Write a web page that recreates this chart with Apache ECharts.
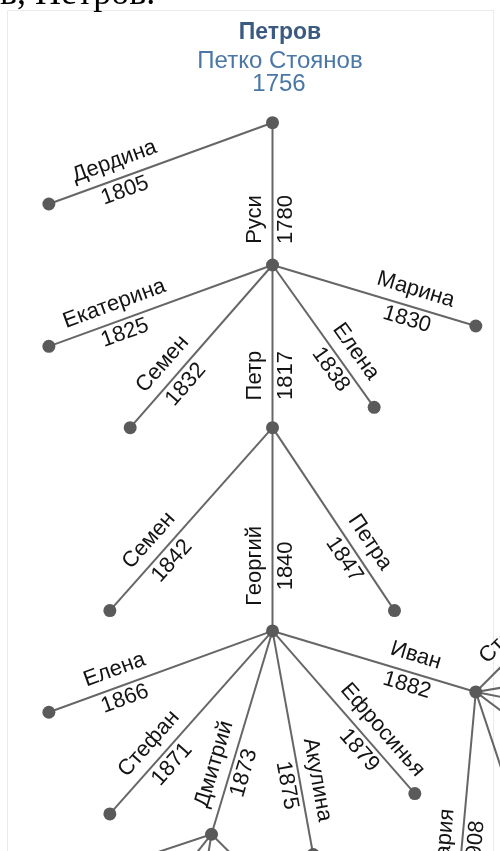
<!DOCTYPE html>
<html>
<head>
<meta charset="utf-8">
<script src="https://cdn.jsdelivr.net/npm/echarts@6/dist/echarts.min.js"></script>
<style>
  html, body { margin: 0; padding: 0; background: #ffffff; }
  #chart { width: 500px; height: 851px; }
</style>
</head>
<body>
<div id="chart"></div>
<script>
// ---- data ----
const pageCaption = 'в, Петров.';
const familyName = 'Петров';
// node 0 is the root of the family tree
const names = [
  'Петко Стоянов', 'Дердина', 'Руси',
  'Екатерина', 'Семен', 'Петр', 'Елена', 'Марина',
  'Семен', 'Георгий', 'Петра',
  'Елена', 'Стефан', 'Дмитрий', 'Акулина', 'Ефросинья', 'Иван',
  'Мария', '', '', '', '', 'Стоян',
  '', '', '', ''
];
const years = [
  '1756', '1805', '1780',
  '1825', '1832', '1817', '1838', '1830',
  '1842', '1840', '1847',
  '1866', '1871', '1873', '1875', '1879', '1882',
  '1908', '', '', '', '', '',
  '', '', '', ''
];
const parents = [
  -1, 0, 0,
  2, 2, 2, 2, 2,
  5, 5, 5,
  9, 9, 9, 9, 9, 9,
  16, 16, 16, 16, 16, 16,
  13, 13, 13, 13
];
// node positions in tree-layout units (root = 0,0; y grows downward)
const nodeX = [
  0, -11, 0,
  -11, -7, 0, 5, 10,
  -8, 0, 6,
  -11, -8, -3, 2, 7, 10,
  9, 12, 14, 15, 16, 13,
  -9, -7, -4, 0
];
const nodeY = [
  0, 4, 7,
  11, 15, 15, 14, 10,
  24, 25, 24,
  29, 34, 35, 36, 33, 28,
  39, 34, 31, 29, 27, 25,
  37, 40, 41, 38
];

// ---- build series data ----
const nodeData = nodeX.map((x, i) => [x, nodeY[i]]);
const edgeData = [];
for (let i = 0; i < parents.length; i++) {
  const p = parents[i];
  if (p < 0) continue;
  edgeData.push([nodeX[p], nodeY[p], nodeX[i], nodeY[i], i]);
}

const LABEL_T = 0.68;
const NAME_OFF = 17.5;
const YEAR_OFF = 13.5;
const LABEL_FONT = '22px "Liberation Sans", Arial, sans-serif';
const HEAD_FONT = '24px "Liberation Sans", Arial, sans-serif';

const chart = echarts.init(document.getElementById('chart'), null, { renderer: 'canvas' });
chart.setOption({
  backgroundColor: '#ffffff',
  animation: false,
  grid: { left: 0, right: 0, top: 0, bottom: 0 },
  xAxis: { type: 'value', min: -13.404, max: 11.19, show: false },
  yAxis: { type: 'value', min: -6.035, max: 35.825, inverse: true, show: false },
  graphic: [
    { type: 'rect', silent: true, z: 0,
      shape: { x: 7.5, y: 10.5, width: 486, height: 900 },
      style: { fill: 'none', stroke: '#ebebeb', lineWidth: 1 } },
    { type: 'text', silent: true, x: 0, y: -5,
      style: { text: pageCaption, font: '36px "Liberation Serif", "Times New Roman", serif',
               fill: '#000', align: 'left', verticalAlign: 'middle' } },
    { type: 'text', silent: true, x: 280, y: 21,
      style: { text: familyName, font: 'bold 23px "Liberation Sans", Arial, sans-serif',
               fill: '#3b5a80', align: 'center', verticalAlign: 'top' } },
    { type: 'text', silent: true, x: 280, y: 49,
      style: { text: names[0], font: HEAD_FONT,
               fill: '#4a77a6', align: 'center', verticalAlign: 'top' } },
    { type: 'text', silent: true, x: 279, y: 72,
      style: { text: years[0], font: HEAD_FONT,
               fill: '#4a77a6', align: 'center', verticalAlign: 'top' } }
  ],
  series: [
    {
      type: 'custom',
      coordinateSystem: 'cartesian2d',
      silent: true,
      clip: false,
      z: 2,
      encode: { x: [0, 2], y: [1, 3] },
      data: edgeData,
      renderItem: function (params, api) {
        const idx = api.value(4);
        const p = api.coord([api.value(0), api.value(1)]);
        const c = api.coord([api.value(2), api.value(3)]);
        const dx = c[0] - p[0], dy = c[1] - p[1];
        const len = Math.hypot(dx, dy);
        let ux = dx / len, uy = dy / len;
        if (dx <= 0) { ux = -ux; uy = -uy; }
        const upx = uy, upy = -ux;
        const ax = p[0] + LABEL_T * dx, ay = p[1] + LABEL_T * dy;
        const rot = -Math.atan2(uy, ux);
        return {
          type: 'group',
          children: [
            { type: 'line', shape: { x1: p[0], y1: p[1], x2: c[0], y2: c[1] },
              style: { stroke: '#666666', lineWidth: 2 } },
            { type: 'text', x: ax + upx * NAME_OFF, y: ay + upy * NAME_OFF, rotation: rot,
              style: { text: names[idx], font: LABEL_FONT, fill: '#141414',
                       align: 'center', verticalAlign: 'middle' } },
            { type: 'text', x: ax - upx * YEAR_OFF, y: ay - upy * YEAR_OFF, rotation: rot,
              style: { text: years[idx], font: LABEL_FONT, fill: '#141414',
                       align: 'center', verticalAlign: 'middle' } }
          ]
        };
      }
    },
    {
      type: 'scatter',
      silent: true,
      clip: false,
      z: 3,
      symbol: 'circle',
      symbolSize: 13,
      itemStyle: { color: '#5a5a5a', opacity: 1 },
      data: nodeData
    }
  ]
});
</script>
</body>
</html>
